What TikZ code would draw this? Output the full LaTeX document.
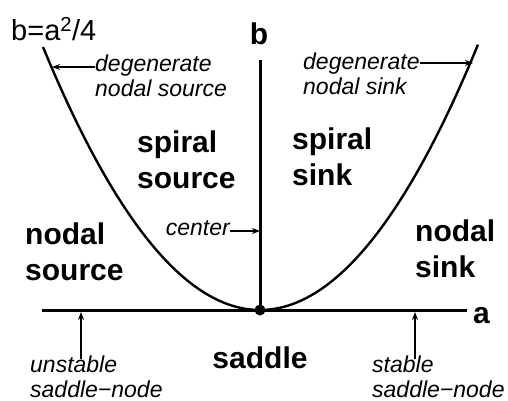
\documentclass[tikz,border=0pt]{standalone}
\usepackage{fontspec}
\setmainfont{Liberation Sans}
\usetikzlibrary{arrows.meta}

\begin{document}
\begin{tikzpicture}[x=1pt,y=-1pt,
    region/.style={inner sep=0pt,anchor=base west,align=left,font=\bfseries\fontsize{30}{36}\selectfont},
    remark/.style={inner sep=0pt,anchor=base west,align=left,font=\itshape\fontsize{23}{25}\selectfont},
    pointer/.style={line width=1.6pt,-{Stealth[length=8pt,width=6pt]}}]
        \useasboundingbox (0,0) rectangle (508,401);
        % axes and the curve b=a^2/4
        \coordinate (o) at (260,310);
        \coordinate (aend) at (467,310);
        \coordinate (aleft) at (42,310);
        \coordinate (btop) at (260,60);
        \draw[line width=3pt] (aleft) -- (aend);
        \draw[line width=3pt] (o) -- (btop);
        \draw[line width=2.4pt] plot[domain=-217:218,samples=90] ({260+\x},{310-0.5585*(\x/10)*(\x/10)});
        \fill (o) circle (5.5);
        \node[inner sep=0pt,anchor=base west,font=\bfseries\fontsize{30}{36}\selectfont] (alab) at (473,323) {a};
        \node[inner sep=0pt,anchor=base,font=\bfseries\fontsize{30}{36}\selectfont] (blab) at (259,45) {b};
        \node[inner sep=0pt,anchor=base west,font=\fontsize{29}{34}\selectfont] (curve) at (11,41) {b=a\textsuperscript{2}/4};
        % regions (base = last line)
        \node[region] (spsrc) at (137,188) {spiral\\source};
        \node[region] (spsnk) at (292,185) {spiral\\sink};
        \node[region] (ndsrc) at (25,280) {nodal\\source};
        \node[region] (ndsnk) at (415,277) {nodal\\sink};
        \node[region,anchor=base] (sad) at (260,368) {saddle};
        % remarks with pointers
        \node[remark] (dgsrc) at (95,97) {degenerate\\nodal source};
        \node[remark] (dgsnk) at (303,95) {degenerate\\nodal sink};
        \node[remark,anchor=base east] (cen) at (230,235) {center};
        \node[remark] (unst) at (30,397) {unstable\\saddle−node};
        \node[remark] (stab) at (372,397) {stable\\saddle−node};
        \coordinate (tipsrc) at (52,67);
        \coordinate (tipsnk) at (473,63);
        \coordinate (tipcen) at (260,231);
        \coordinate (tipunst) at (81,312);
        \coordinate (tipstab) at (415,312);
        \draw[pointer] (dgsrc.west |- tipsrc) -- (tipsrc);
        \draw[pointer] (dgsnk.east |- tipsnk) -- (tipsnk);
        \draw[pointer] (cen.east |- tipcen) -- (tipcen);
        \draw[pointer] ([yshift=-4pt]tipunst |- unst.north) -- (tipunst);
        \draw[pointer] ([yshift=-4pt]tipstab |- stab.north) -- (tipstab);
\end{tikzpicture}
\end{document}
